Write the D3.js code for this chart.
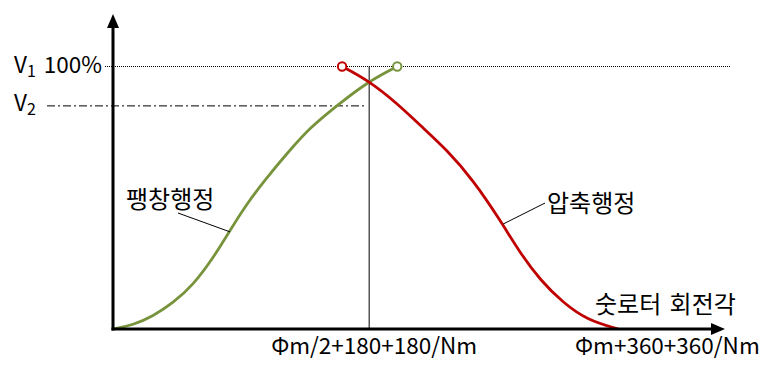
<!DOCTYPE html>
<html><head><meta charset="utf-8">
<script src="https://cdn.jsdelivr.net/npm/d3@7"></script>
<style>
html,body{margin:0;padding:0;background:#fff;}
svg text{font-family:"Noto Sans CJK KR","Noto Sans",sans-serif;fill:#000;}
</style></head><body>
<svg id="c" width="784" height="366"></svg>
<script>
// ---- data ----
const expansionAngle = [0, 14.3, 28.5, 42.8, 57.0, 71.3, 83.4, 95.5, 109.8, 124.0, 140.4, 159.7, 181.8, 202.5];
const expansionValue = [0, 1.5, 4.9, 9.9, 16.7, 27.0, 37.6, 47.9, 57.8, 66.9, 76.8, 85.2, 94.3, 100];
const compressionAngle = [163.2, 181.8, 202.5, 218.8, 238.1, 256.6, 275.9, 290.1, 304.4, 320.8, 337.9, 360];
const compressionValue = [100, 94.7, 85.9, 77.6, 68.1, 56.7, 41.4, 28.9, 18.6, 9.9, 3.4, 0];
const levelNames = ["V1", "V2"];
const levelValues = [100, 85];
const xTickValues = [182.5, 360];
const xTickLabels = ["Φm/2+180+180/Nm", "Φm+360+360/Nm"];
const seriesNames = ["팽창행정", "압축행정"];
const xAxisTitle = "숫로터 회전각";

// ---- drawing ----
const svg = d3.select("#c");
const x = d3.scaleLinear().domain([0, 436]).range([113, 725]);
const y = d3.scaleLinear().domain([0, 120]).range([329, 14]);
const green = "#77933C", red = "#C00000";

// V1 dotted line
svg.append("line").attr("x1", 105).attr("x2", 730)
  .attr("y1", y(levelValues[0])).attr("y2", y(levelValues[0]))
  .attr("stroke", "#000").attr("stroke-width", 1).attr("stroke-dasharray", "1,1");
// V2 dash-dot line
svg.append("line").attr("x1", 47).attr("x2", x(xTickValues[0]) - 4)
  .attr("y1", y(levelValues[1])).attr("y2", y(levelValues[1]))
  .attr("stroke", "#000").attr("stroke-width", 1).attr("stroke-dasharray", "8,3,2,3");
// vertical line at mid tick
svg.append("line").attr("x1", x(xTickValues[0])).attr("x2", x(xTickValues[0]))
  .attr("y1", y(levelValues[0])).attr("y2", y(0))
  .attr("stroke", "#000").attr("stroke-width", 1);

// curves
const line = d3.line().x(d => x(d[0])).y(d => y(d[1])).curve(d3.curveBasis);
const gData = expansionAngle.map((a, i) => [a, expansionValue[i]]);
const rData = compressionAngle.map((a, i) => [a, compressionValue[i]]);
svg.append("path").attr("d", line(gData)).attr("fill", "none").attr("stroke", green).attr("stroke-width", 2.8);
svg.append("path").attr("d", line(rData)).attr("fill", "none").attr("stroke", red).attr("stroke-width", 2.8);

// axes
svg.append("line").attr("x1", x(0)).attr("x2", x(0)).attr("y1", y(0) + 1.5).attr("y2", y(120) + 10)
  .attr("stroke", "#000").attr("stroke-width", 3);
svg.append("line").attr("x1", x(0) - 1.5).attr("x2", x(436) - 10).attr("y1", y(0)).attr("y2", y(0))
  .attr("stroke", "#000").attr("stroke-width", 3);
svg.append("path").attr("d", `M${x(0)},${y(120)} L${x(0) - 6},${y(120) + 14} L${x(0) + 6},${y(120) + 14}Z`).attr("fill", "#000");
svg.append("path").attr("d", `M${x(436)},${y(0)} L${x(436) - 14},${y(0) - 6} L${x(436) - 14},${y(0) + 6}Z`).attr("fill", "#000");

// end circles
svg.append("circle").attr("cx", x(compressionAngle[0])).attr("cy", y(compressionValue[0])).attr("r", 4.2)
  .attr("fill", "#fff").attr("stroke", red).attr("stroke-width", 2);
svg.append("circle").attr("cx", x(expansionAngle[expansionAngle.length - 1])).attr("cy", y(expansionValue[expansionValue.length - 1])).attr("r", 4.2)
  .attr("fill", "#fff").attr("stroke", green).attr("stroke-width", 2);

// leader lines
svg.append("line").attr("x1", 178).attr("y1", 213).attr("x2", x(83.4)).attr("y2", y(37.0)).attr("stroke", "#000").attr("stroke-width", 1);
svg.append("line").attr("x1", 545).attr("y1", 203).attr("x2", x(278)).attr("y2", y(40)).attr("stroke", "#000").attr("stroke-width", 1);

// texts
const fsL = 22.5, fsK = 24;
function label(txt, tx, ty, size, anchor) {
  return svg.append("text").attr("x", tx).attr("y", ty).attr("font-size", size)
    .attr("text-anchor", anchor || "start").text(txt);
}
function vlabel(name, tx, ty, extra) {
  const t = svg.append("text").attr("x", tx).attr("y", ty).attr("font-size", fsL);
  t.append("tspan").text(name[0]);
  t.append("tspan").attr("font-size", 16).attr("dy", 4).text(name.slice(1));
  if (extra) t.append("tspan").attr("dy", -4).attr("dx", 8).text(extra);
}
vlabel(levelNames[0], 14, 73, "100%");
vlabel(levelNames[1], 14, 111);
label(seriesNames[0], 126, 208, fsK);
label(seriesNames[1], 547, 212, fsK);
label(xAxisTitle, 595, 313, fsK).attr("word-spacing", 3);
label(xTickLabels[0], x(xTickValues[0]) + 5, 354, fsL, "middle");
label(xTickLabels[1], 575, 354, fsL);
</script></body></html>
